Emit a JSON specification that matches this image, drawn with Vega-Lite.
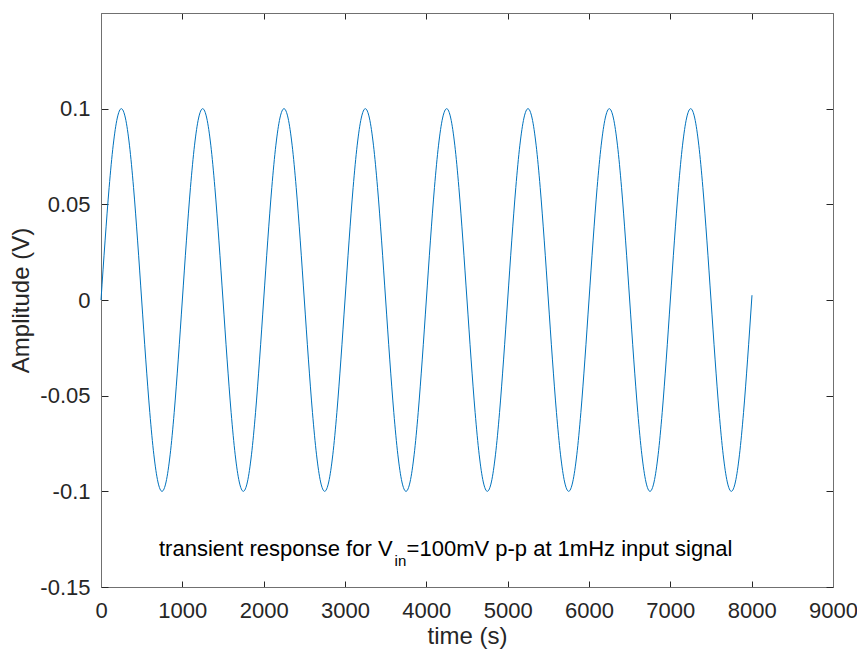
{
  "$schema": "https://vega.github.io/schema/vega-lite/v6.json",
  "width": 732,
  "height": 574,
  "autosize": {"type": "none"},
  "padding": {"left": 101, "top": 13, "right": 24, "bottom": 70},
  "background": "white",
  "config": {
    "view": {"stroke": null},
    "font": "Liberation Sans",
    "axis": {
      "grid": false,
      "domainColor": "#707070",
      "domainWidth": 1,
      "tickColor": "#262626",
      "tickWidth": 1,
      "labelColor": "#262626",
      "labelFont": "Liberation Sans",
      "labelFontSize": 22,
      "titleFont": "Liberation Sans",
      "titleFontSize": 24,
      "titleFontWeight": "normal",
      "titleColor": "#262626"
    }
  },
  "data": {"values": [
    {"t":0,"v":0},{"t":50,"v":0.0309},{"t":100,"v":0.0588},{"t":150,"v":0.0809},{"t":200,"v":0.0951},{"t":250,"v":0.1},{"t":300,"v":0.0951},{"t":350,"v":0.0809},{"t":400,"v":0.0588},{"t":450,"v":0.0309},
    {"t":500,"v":0},{"t":550,"v":-0.0309},{"t":600,"v":-0.0588},{"t":650,"v":-0.0809},{"t":700,"v":-0.0951},{"t":750,"v":-0.1},{"t":800,"v":-0.0951},{"t":850,"v":-0.0809},{"t":900,"v":-0.0588},{"t":950,"v":-0.0309},
    {"t":1000,"v":0},{"t":1050,"v":0.0309},{"t":1100,"v":0.0588},{"t":1150,"v":0.0809},{"t":1200,"v":0.0951},{"t":1250,"v":0.1},{"t":1300,"v":0.0951},{"t":1350,"v":0.0809},{"t":1400,"v":0.0588},{"t":1450,"v":0.0309},
    {"t":1500,"v":0},{"t":1550,"v":-0.0309},{"t":1600,"v":-0.0588},{"t":1650,"v":-0.0809},{"t":1700,"v":-0.0951},{"t":1750,"v":-0.1},{"t":1800,"v":-0.0951},{"t":1850,"v":-0.0809},{"t":1900,"v":-0.0588},{"t":1950,"v":-0.0309},
    {"t":2000,"v":0},{"t":2050,"v":0.0309},{"t":2100,"v":0.0588},{"t":2150,"v":0.0809},{"t":2200,"v":0.0951},{"t":2250,"v":0.1},{"t":2300,"v":0.0951},{"t":2350,"v":0.0809},{"t":2400,"v":0.0588},{"t":2450,"v":0.0309},
    {"t":2500,"v":0},{"t":2550,"v":-0.0309},{"t":2600,"v":-0.0588},{"t":2650,"v":-0.0809},{"t":2700,"v":-0.0951},{"t":2750,"v":-0.1},{"t":2800,"v":-0.0951},{"t":2850,"v":-0.0809},{"t":2900,"v":-0.0588},{"t":2950,"v":-0.0309},
    {"t":3000,"v":0},{"t":3050,"v":0.0309},{"t":3100,"v":0.0588},{"t":3150,"v":0.0809},{"t":3200,"v":0.0951},{"t":3250,"v":0.1},{"t":3300,"v":0.0951},{"t":3350,"v":0.0809},{"t":3400,"v":0.0588},{"t":3450,"v":0.0309},
    {"t":3500,"v":0},{"t":3550,"v":-0.0309},{"t":3600,"v":-0.0588},{"t":3650,"v":-0.0809},{"t":3700,"v":-0.0951},{"t":3750,"v":-0.1},{"t":3800,"v":-0.0951},{"t":3850,"v":-0.0809},{"t":3900,"v":-0.0588},{"t":3950,"v":-0.0309},
    {"t":4000,"v":0},{"t":4050,"v":0.0309},{"t":4100,"v":0.0588},{"t":4150,"v":0.0809},{"t":4200,"v":0.0951},{"t":4250,"v":0.1},{"t":4300,"v":0.0951},{"t":4350,"v":0.0809},{"t":4400,"v":0.0588},{"t":4450,"v":0.0309},
    {"t":4500,"v":0},{"t":4550,"v":-0.0309},{"t":4600,"v":-0.0588},{"t":4650,"v":-0.0809},{"t":4700,"v":-0.0951},{"t":4750,"v":-0.1},{"t":4800,"v":-0.0951},{"t":4850,"v":-0.0809},{"t":4900,"v":-0.0588},{"t":4950,"v":-0.0309},
    {"t":5000,"v":0},{"t":5050,"v":0.0309},{"t":5100,"v":0.0588},{"t":5150,"v":0.0809},{"t":5200,"v":0.0951},{"t":5250,"v":0.1},{"t":5300,"v":0.0951},{"t":5350,"v":0.0809},{"t":5400,"v":0.0588},{"t":5450,"v":0.0309},
    {"t":5500,"v":0},{"t":5550,"v":-0.0309},{"t":5600,"v":-0.0588},{"t":5650,"v":-0.0809},{"t":5700,"v":-0.0951},{"t":5750,"v":-0.1},{"t":5800,"v":-0.0951},{"t":5850,"v":-0.0809},{"t":5900,"v":-0.0588},{"t":5950,"v":-0.0309},
    {"t":6000,"v":0},{"t":6050,"v":0.0309},{"t":6100,"v":0.0588},{"t":6150,"v":0.0809},{"t":6200,"v":0.0951},{"t":6250,"v":0.1},{"t":6300,"v":0.0951},{"t":6350,"v":0.0809},{"t":6400,"v":0.0588},{"t":6450,"v":0.0309},
    {"t":6500,"v":0},{"t":6550,"v":-0.0309},{"t":6600,"v":-0.0588},{"t":6650,"v":-0.0809},{"t":6700,"v":-0.0951},{"t":6750,"v":-0.1},{"t":6800,"v":-0.0951},{"t":6850,"v":-0.0809},{"t":6900,"v":-0.0588},{"t":6950,"v":-0.0309},
    {"t":7000,"v":0},{"t":7050,"v":0.0309},{"t":7100,"v":0.0588},{"t":7150,"v":0.0809},{"t":7200,"v":0.0951},{"t":7250,"v":0.1},{"t":7300,"v":0.0951},{"t":7350,"v":0.0809},{"t":7400,"v":0.0588},{"t":7450,"v":0.0309},
    {"t":7500,"v":0},{"t":7550,"v":-0.0309},{"t":7600,"v":-0.0588},{"t":7650,"v":-0.0809},{"t":7700,"v":-0.0951},{"t":7750,"v":-0.1},{"t":7800,"v":-0.0951},{"t":7850,"v":-0.0809},{"t":7900,"v":-0.0588},{"t":7950,"v":-0.0309},
    {"t":8000,"v":0},{"t":8004,"v":0.0025}
  ]},
  "layer": [
    {
      "mark": {"type": "line", "color": "#0072BD", "strokeWidth": 1, "interpolate": "monotone"},
      "encoding": {
        "x": {"field": "t", "type": "quantitative", "scale": {"domain": [0, 9000], "nice": false, "zero": false},
          "axis": {"orient": "bottom", "title": "time (s)", "values": [0,1000,2000,3000,4000,5000,6000,7000,8000,9000], "labelFlush": false, "labelOverlap": false, "tickSize": -6, "labelPadding": 19, "titlePadding": 3, "format": "d"}},
        "y": {"field": "v", "type": "quantitative", "scale": {"domain": [-0.15, 0.15], "nice": false, "zero": false},
          "axis": {"orient": "left", "title": "Amplitude (V)", "values": [-0.15,-0.1,-0.05,0,0.05,0.1], "labelFlush": false, "labelOverlap": false, "tickSize": -7, "labelPadding": 18, "titlePadding": 6, "labelExpr": "replace(format(datum.value, '~g'), '−', '-')"}}
      }
    },
    {
      "mark": {"type": "line", "strokeOpacity": 0},
      "encoding": {
        "x": {"field": "t", "type": "quantitative",
          "axis": {"orient": "top", "title": null, "labels": false, "values": [0,1000,2000,3000,4000,5000,6000,7000,8000,9000], "tickSize": -6}},
        "y": {"field": "v", "type": "quantitative",
          "axis": {"orient": "right", "title": null, "labels": false, "values": [-0.15,-0.1,-0.05,0,0.05,0.1], "tickSize": -7}}
      }
    },
    {
      "data": {"values": [{"x": 3585, "y": -0.1338, "a": "transient response for V", "b": "in", "c": "=100mV p-p at 1mHz input signal"}]},
      "layer": [
        {"mark": {"type": "text", "align": "right", "baseline": "alphabetic", "fontSize": 22, "color": "#000000", "font": "Liberation Sans"},
         "encoding": {"x": {"field": "x", "type": "quantitative", "axis": null}, "y": {"field": "y", "type": "quantitative", "axis": null}, "text": {"field": "a"}}},
        {"mark": {"type": "text", "align": "left", "baseline": "alphabetic", "fontSize": 15, "dx": 2, "dy": 10, "color": "#000000", "font": "Liberation Sans"},
         "encoding": {"x": {"field": "x", "type": "quantitative", "axis": null}, "y": {"field": "y", "type": "quantitative", "axis": null}, "text": {"field": "b"}}},
        {"mark": {"type": "text", "align": "left", "baseline": "alphabetic", "fontSize": 22, "dx": 14, "color": "#000000", "font": "Liberation Sans"},
         "encoding": {"x": {"field": "x", "type": "quantitative", "axis": null}, "y": {"field": "y", "type": "quantitative", "axis": null}, "text": {"field": "c"}}}
      ]
    }
  ],
  "resolve": {"axis": {"x": "independent", "y": "independent"}}
}
